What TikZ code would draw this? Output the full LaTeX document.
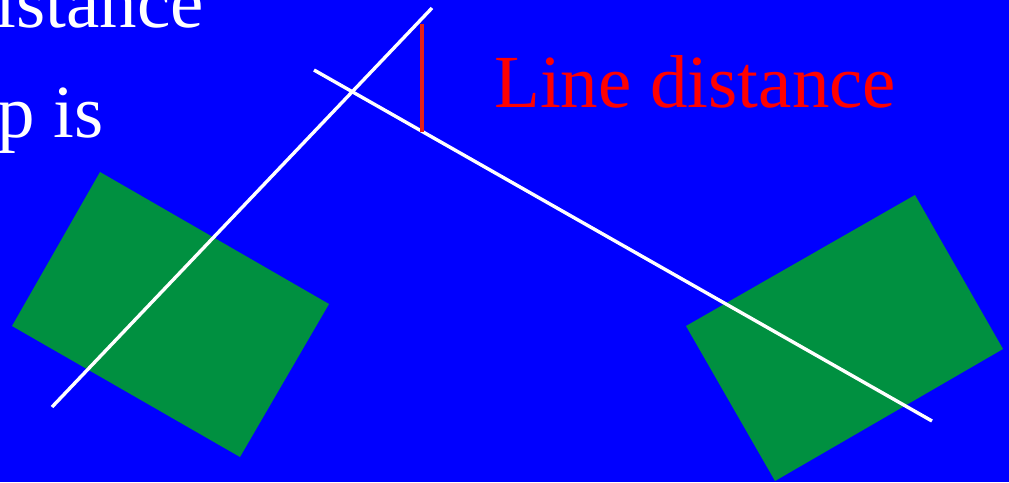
\documentclass[tikz,border=0pt]{standalone}
\usepackage{fontspec}
\setmainfont{Liberation Serif}
\usetikzlibrary{positioning}
\definecolor{Slide}{HTML}{0000FF}
\definecolor{Plate}{HTML}{009040}
\definecolor{Gap}{HTML}{E62117}
\definecolor{Caption}{HTML}{FF0000}
\tikzset{
platebox/.style={fill=Plate, draw=none},
fitline/.style={draw=white, line width=3.4pt},
gapline/.style={draw=Gap, line width=4pt},
bigtext/.style={inner sep=0pt, font=\fontsize{75}{75}\selectfont}
}
\begin{document}
\begin{tikzpicture}[x=1pt, y=-1pt]
  \clip (0,0) rectangle (1009,482);
  \fill[Slide] (0,0) rectangle (1009,482);
  % two plates
  \path[platebox] (100,172) -- (329,304) -- (240,457) -- (12,326) -- cycle;
  \path[platebox] (915,195) -- (1003,349) -- (775,481) -- (686,326) -- cycle;
  % fitted lines
  \coordinate (la) at (52,407);
  \coordinate (lb) at (432,8);
  \coordinate (ma) at (314,70);
  \coordinate (mb) at (932,421);
  \draw[fitline] (la) -- (lb);
  \draw[fitline] (ma) -- (mb);
  \coordinate (gtop) at (422,24);
  \coordinate (gbot) at (422,132);
  \draw[gapline] (gtop) -- (gbot);
  % labels
  \node[bigtext, text=Caption, anchor=base west] (gaplabel) at (494,107) {Line distance};
  \node[bigtext, text=white, anchor=base east] (topword) at (204,27) {istance};
  \node[bigtext, text=white, anchor=base east] (lowword) at (104,137) {p is};
\end{tikzpicture}
\end{document}
